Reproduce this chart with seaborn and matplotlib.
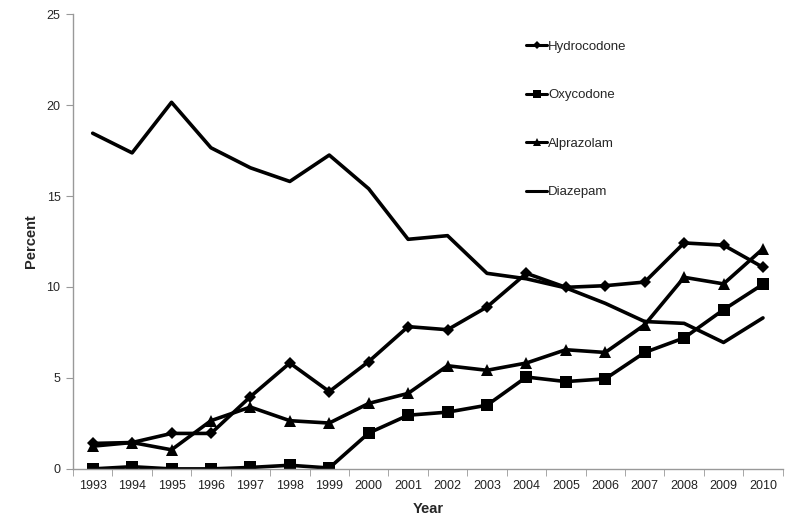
import pandas as pd
import matplotlib.pyplot as plt
import seaborn as sns

# values (percent)
years = list(range(1993, 2011))
hydrocodone = [1.4, 1.45, 1.95, 1.95, 3.97, 5.82, 4.25, 5.9, 7.82, 7.65, 8.9, 10.75, 9.98, 10.07, 10.27, 12.42, 12.3, 11.08]
oxycodone = [0.0, 0.12, 0.0, 0.0, 0.08, 0.2, 0.05, 1.97, 2.95, 3.12, 3.5, 5.05, 4.8, 4.95, 6.4, 7.2, 8.75, 10.15]
alprazolam = [1.25, 1.45, 1.05, 2.65, 3.4, 2.65, 2.52, 3.6, 4.15, 5.67, 5.42, 5.82, 6.55, 6.4, 7.92, 10.53, 10.17, 12.1]
diazepam = [18.45, 17.37, 20.15, 17.65, 16.55, 15.8, 17.25, 15.4, 12.62, 12.82, 10.75, 10.45, 9.95, 9.1, 8.1, 8.0, 6.95, 8.3]
drugs = ["Hydrocodone", "Oxycodone", "Alprazolam", "Diazepam"]

df = pd.concat([
    pd.DataFrame({"Year": years, "Percent": vals, "Drug": name})
    for name, vals in zip(drugs, [hydrocodone, oxycodone, alprazolam, diazepam])
])

sns.set_style("white")
plt.rcParams["font.family"] = ["Liberation Sans", "DejaVu Sans"]

fig = plt.figure(figsize=(7.93, 5.21), dpi=100)
ax = fig.add_axes([0.092, 0.1, 0.895, 0.873])

# diazepam has no marker; give it a dummy one and hide it afterwards
markers = {"Hydrocodone": "D", "Oxycodone": "s", "Alprazolam": "^", "Diazepam": "o"}
sizes = {"Hydrocodone": 6.5, "Oxycodone": 8, "Alprazolam": 8, "Diazepam": 0}
palette = {d: "black" for d in drugs}

sns.lineplot(data=df, x="Year", y="Percent", hue="Drug", style="Drug",
             hue_order=drugs, style_order=drugs, palette=palette,
             markers=markers, dashes=False, lw=2.6, ax=ax, legend=False)
for line, d in zip(ax.lines, drugs):
    line.set_markersize(sizes[d])
    line.set_markeredgewidth(0)
    line.set_label(d)

ax.set_xlim(1992.5, 2010.5)
ax.set_ylim(0, 25)
ax.set_xticks(years)
ax.set_xticklabels([str(y) for y in years])
ax.set_xticks([y + 0.5 for y in range(1992, 2011)], minor=True)
ax.set_yticks([0, 5, 10, 15, 20, 25])
ax.tick_params(axis="x", which="major", length=0, labelsize=9, pad=8, colors="#222222")
ax.tick_params(axis="x", which="minor", length=5, color="#999999", bottom=True)
ax.tick_params(axis="y", length=5, color="#999999", labelsize=9, pad=4, left=True)
for s in ["top", "right"]:
    ax.spines[s].set_visible(False)
for s in ["left", "bottom"]:
    ax.spines[s].set_color("#999999")
    ax.spines[s].set_linewidth(1)

ax.set_xlabel("Year", fontsize=10.5, fontweight="bold", labelpad=7)
ax.set_ylabel("Percent", fontsize=10.5, fontweight="bold", labelpad=6)

leg = ax.legend(loc="upper left", bbox_to_anchor=(0.622, 0.968), frameon=False,
                fontsize=9.5, labelspacing=2.75, handlelength=1.6, handletextpad=0.05,
                markerscale=0.7)
for h in leg.get_lines():
    h.set_linewidth(2.2)

fig.savefig("out.png", dpi=100)
